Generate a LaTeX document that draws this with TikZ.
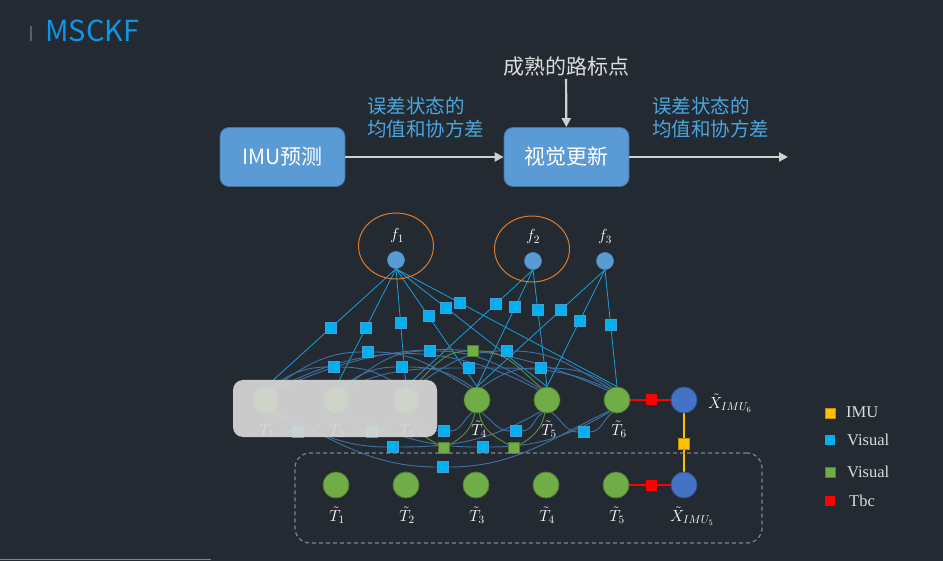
\RequirePackage{fix-cm}
\documentclass[tikz,border=0pt]{standalone}
\usepackage{fontspec}
\newfontfamily\cjk{Noto Sans CJK SC}
\newfontfamily\tms{Liberation Serif}
\usetikzlibrary{arrows.meta,calc}
\pgfdeclarelayer{back}
\pgfdeclarelayer{lines}
\pgfsetlayers{back,lines,main}
\definecolor{bgc}{HTML}{232A32}
\definecolor{titleblue}{HTML}{0C96E6}
\definecolor{bargray}{HTML}{5A6068}
\definecolor{boxblue}{HTML}{5B9BD5}
\definecolor{boxblueD}{HTML}{41719C}
\definecolor{arrowgray}{HTML}{D0D0D0}
\definecolor{lblblue}{HTML}{4BA6E0}
\definecolor{txtgray}{HTML}{DCDCDC}
\definecolor{ellor}{HTML}{E07B2A}
\definecolor{fblue}{HTML}{5B9BD5}
\definecolor{fblueD}{HTML}{4F8BC4}
\definecolor{tgreen}{HTML}{70AD47}
\definecolor{tgreenD}{HTML}{507E32}
\definecolor{xblue}{HTML}{4472C4}
\definecolor{xblueD}{HTML}{2F5597}
\definecolor{vblue}{HTML}{00B0F0}
\definecolor{vblueD}{HTML}{4A9BD6}
\definecolor{lineblue}{HTML}{1AA0D8}
\definecolor{arcblue}{HTML}{3F72A3}
\definecolor{arcgreen}{HTML}{5E8F3A}
\definecolor{yel}{HTML}{FFC000}
\definecolor{yelD}{HTML}{BF9000}
\definecolor{maskgray}{HTML}{D6D7D5}
\definecolor{dashgray}{HTML}{7F868E}
\definecolor{baseline}{HTML}{5B8FC9}
\begin{document}
\begin{tikzpicture}[x=1pt,y=-1pt,
  procbox/.style={rectangle,rounded corners=9pt,fill=boxblue,draw=boxblueD,line width=0.8pt,
    minimum width=125pt,minimum height=59pt,text=white,font=\cjk\fontsize{21}{25}\selectfont},
  flow/.style={draw=arrowgray,line width=2.2pt,-{Triangle[length=9pt,width=9pt]}},
  lbl/.style={align=left,inner sep=0pt,text=lblblue,font=\cjk\fontsize{19.5}{23}\selectfont},
  fnode/.style={circle,fill=fblue,draw=fblueD,line width=0.6pt,minimum size=17pt,inner sep=0pt},
  tnode/.style={circle,fill=tgreen,draw=tgreenD,line width=0.8pt,minimum size=26pt,inner sep=0pt},
  xnode/.style={circle,fill=xblue,draw=xblueD,line width=0.8pt,minimum size=26pt,inner sep=0pt},
  vsq/.style={rectangle,fill=vblue,draw=vblueD,line width=0.5pt,minimum size=11pt,inner sep=0pt},
  gsq/.style={rectangle,fill=tgreen,draw=tgreenD,line width=0.6pt,minimum size=11pt,inner sep=0pt},
  rsq/.style={rectangle,fill=red,minimum size=11pt,inner sep=0pt},
  ysq/.style={rectangle,fill=yel,draw=yelD,line width=0.5pt,minimum size=11pt,inner sep=0pt},
  fline/.style={draw=lineblue,line width=0.8pt},
  arcline/.style={draw=arcblue,line width=0.9pt},
  garc/.style={draw=arcgreen,line width=0.9pt},
  redline/.style={draw=red,line width=1.2pt},
  yline/.style={draw=yel,line width=1.2pt},
  mlab/.style={text=white,inner sep=0pt,font=\fontsize{16}{19}\selectfont},
  legsq/.style={rectangle,minimum size=10pt,inner sep=0pt,line width=0.6pt},
  legtxt/.style={anchor=west,inner sep=0pt,text=txtgray,font=\tms\fontsize{16.5}{19}\selectfont},
  ell/.style={draw=ellor,line width=1pt}
]
\useasboundingbox (0,0) rectangle (943,561);
\begin{pgfonlayer}{back}
  \fill[bgc] (0,0) rectangle (943,561);
\end{pgfonlayer}

% title
\draw[draw=bargray,line width=1.5pt] (31,26) -- (31,41);
\node[anchor=base west,inner sep=0pt,text=titleblue,font=\cjk\fontsize{29}{32}\selectfont] (title) at (45,42) {MSCKF};

% pipeline
\node[procbox] (imu) at (282.5,157) {IMU预测};
\node[procbox] (vis) at (566.5,157) {视觉更新};
\node[inner sep=2pt,text=txtgray,font=\cjk\fontsize{21}{25}\selectfont] (mature) at (566,67) {成熟的路标点};
\coordinate (outp) at (788,157);
\draw[flow] (imu) -- (vis);
\draw[flow] (mature) -- (vis);
\draw[flow] (vis) -- (outp);
\node[lbl,anchor=north west] (lab1) at (367,97) {误差状态的\\均值和协方差};
\node[lbl,anchor=north west] (lab2) at (652,97) {误差状态的\\均值和协方差};

% bottom-left line
\draw[draw=baseline,line width=1.2pt] (0,559.5) -- (211,559.5);

% landmarks
\draw[ell] (396,246) ellipse [x radius=37.5, y radius=33];
\draw[ell] (532,249) ellipse [x radius=37.5, y radius=33];
\node[fnode] (f1) at (396,260) {};
\node[fnode] (f2) at (533,261) {};
\node[fnode] (f3) at (605,261) {};
\node[mlab] (f1l) at (397,236) {$f_1$};
\node[mlab] (f2l) at (533,237) {$f_2$};
\node[mlab] (f3l) at (605,237) {$f_3$};

% poses (sliding window)
\foreach \i/\x in {1/266,2/336,3/406,4/477,5/547,6/617}{
  \node[tnode] (T\i) at (\x,400) {};
}
\node[xnode] (X6) at (684,400) {};
\foreach \i/\x in {1/336,2/406,3/476,4/546,5/616}{
  \node[tnode] (S\i) at (\x,485) {};
}
\node[xnode] (X5) at (684,485) {};

% landmark-pose factors
\foreach \f/\t/\p in {1/1/0.5,1/2/0.5,1/3/0.46,1/4/0.40,1/5/0.33,1/6/0.29,2/3/0.29,2/4/0.32,2/5/0.34,3/4/0.345,3/5/0.44,3/6/0.47}{
  \node[vsq] (a\f\t) at ($(f\f.south)!\p!(T\t.north)$) {};
}

% pose-pose factors
\node[vsq] (u1) at (334,367) {};
\node[vsq] (u2) at (368,352) {};
\node[vsq] (u3) at (402,367) {};
\node[vsq] (u4) at (430,351) {};
\node[vsq] (u5) at (469,368) {};
\node[vsq] (u6) at (507,351) {};
\node[vsq] (u7) at (541,368) {};
\node[gsq] (ug) at (473,351) {};
\node[vsq] (l1) at (298,432) {};
\node[vsq] (l2) at (372,432) {};
\node[vsq] (l3) at (444,431) {};
\node[vsq] (l4) at (516,431) {};
\node[vsq] (l5) at (584,432) {};
\node[vsq] (l6) at (393,447) {};
\node[vsq] (l7) at (483,447) {};
\node[vsq] (l8) at (443,467) {};
\node[gsq] (lg1) at (444,448) {};
\node[gsq] (lg2) at (514,448) {};

\begin{pgfonlayer}{lines}
  \foreach \f/\t in {1/1,1/2,1/3,1/4,1/5,1/6,2/3,2/4,2/5,3/4,3/5,3/6}{
    \draw[fline] (f\f.south) -- (T\t.north);
  }
  % upper arcs
  \draw[arcline] (T1.70) to[out=35,in=180] (u1) to[out=0,in=145] (T3.110);
  \draw[arcline] (T1.60) to[out=35,in=180] (u2) to[out=0,in=150] (T4.120);
  \draw[arcline] (T2.70) to[out=35,in=180] (u3) to[out=0,in=145] (T4.110);
  \draw[arcline] (T2.60) to[out=35,in=180] (u4) to[out=0,in=150] (T5.120);
  \draw[arcline] (T2.55) to[out=25,in=180] (u5) to[out=0,in=155] (T6.125);
  \draw[arcline] (T3.60) to[out=35,in=180] (u6) to[out=0,in=150] (T6.120);
  \draw[arcline] (T4.70) to[out=35,in=180] (u7) to[out=0,in=145] (T6.110);
  \draw[arcline] (T1.50) to[out=28,in=152] (T5.130);
  \draw[arcline] (T1.45) to[out=25,in=155] (T6.135);
  \draw[garc] (T3.65) to[out=40,in=180] (ug) to[out=0,in=140] (T5.115);
  % lower arcs
  \draw[arcline] (T1.-70) to[out=-35,in=180] (l1) to[out=0,in=-145] (T2.-110);
  \draw[arcline] (T2.-70) to[out=-35,in=180] (l2) to[out=0,in=-145] (T3.-110);
  \draw[arcline] (T3.-70) to[out=-35,in=180] (l3) to[out=0,in=-145] (T4.-110);
  \draw[arcline] (T4.-70) to[out=-35,in=180] (l4) to[out=0,in=-145] (T5.-110);
  \draw[arcline] (T5.-70) to[out=-35,in=180] (l5) to[out=0,in=-145] (T6.-110);
  \draw[arcline] (T1.-60) to[out=-25,in=180] (l6) to[out=0,in=-150] (T5.-120);
  \draw[arcline] (T2.-60) to[out=-25,in=180] (l7) to[out=0,in=-150] (T6.-120);
  \draw[arcline] (T1.-55) to[out=-25,in=180] (l8) to[out=0,in=-155] (T6.-125);
  \draw[garc] (T3.-80) to[out=-80,in=150] (lg1) to[out=30,in=-100] (T4.-100);
  \draw[garc] (T4.-80) to[out=-80,in=150] (lg2) to[out=30,in=-100] (T5.-100);
  % IMU / extrinsic factors
  \draw[redline] (T6) -- (X6);
  \draw[redline] (S5) -- (X5);
  \draw[yline] (X6) -- (X5);
\end{pgfonlayer}
\node[rsq] (r6) at (651,400) {};
\node[rsq] (r5) at (651,485) {};
\node[ysq] (y65) at (684,444) {};

% pose labels
\foreach \i/\x in {1/267,2/337,3/407,4/479,5/549,6/619}{
  \node[mlab] (T\i l) at (\x,429) {$\tilde{T}_{\i}$};
}
\node[mlab,anchor=west] (X6l) at (708,403) {$\tilde{X}_{IMU_6}$};
\foreach \i/\x in {1/337,2/407,3/477,4/547,5/617}{
  \node[mlab] (S\i l) at (\x,515) {$\tilde{T}_{\i}$};
}
\node[mlab] (X5l) at (692,516) {$\tilde{X}_{IMU_5}$};

% marginalised block mask
\node[rectangle,rounded corners=10pt,fill=maskgray,fill opacity=0.93,minimum width=204pt,minimum height=57pt,inner sep=0pt] (mask) at (335,408.5) {};

% current window
\node[rectangle,rounded corners=15pt,draw=dashgray,line width=1.2pt,dash pattern=on 4pt off 3pt,minimum width=467pt,minimum height=90pt,inner sep=0pt] (win) at (528.5,498) {};

% legend
\node[legsq,fill=yel,draw=yelD] (k1) at (830,413) {};
\node[legsq,fill=vblue] (k2) at (830,440) {};
\node[legsq,fill=tgreen,draw=tgreenD] (k3) at (830,472) {};
\node[legsq,fill=red] (k4) at (830,501) {};
\node[legtxt] (k1t) at (846,412) {IMU};
\node[legtxt] (k2t) at (847,439.5) {Visual};
\node[legtxt] (k3t) at (847,472) {Visual};
\node[legtxt] (k4t) at (849,501) {Tbc};
\end{tikzpicture}
\end{document}
